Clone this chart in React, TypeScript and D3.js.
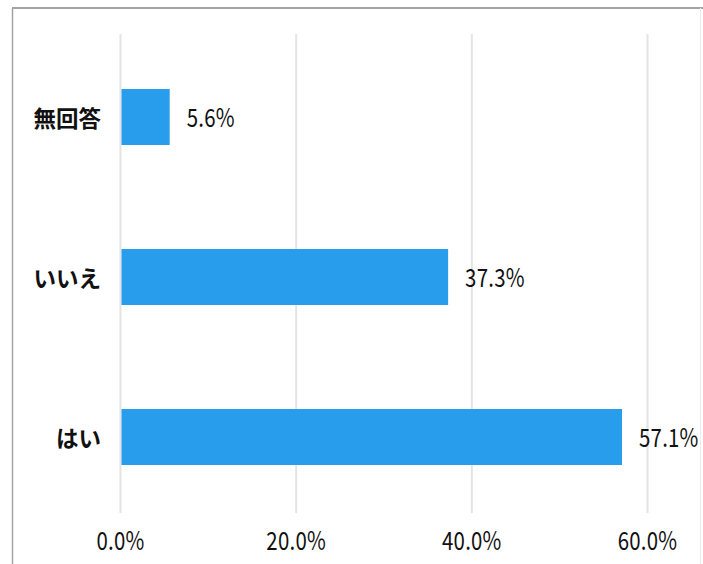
import React from "react";
import * as d3 from "d3";

const categories = ["無回答", "いいえ", "はい"];
const values = [5.6, 37.3, 57.1];
const ticks = [0, 20, 40, 60];

const W = 703;
const H = 564;
const BAR_COLOR = "#279DEB";
const FONT = "'Noto Sans CJK JP', 'Noto Sans', sans-serif";
const SX = 0.8;

function Num({ x, y, s, anchor }: { x: number; y: number; s: string; anchor?: string }) {
  return (
    <g transform={`translate(${x},${y}) scale(${SX},1)`}>
      <text
        x={0}
        y={0}
        textAnchor={anchor || "start"}
        fontFamily={FONT}
        fontSize={25.5}
        letterSpacing={0.3}
        fill="#111"
      >
        {s}
      </text>
    </g>
  );
}

export default function App() {
  const x = d3.scaleLinear().domain([0, 60]).range([120.5, 647.5]);
  const y = d3
    .scaleBand<string>()
    .domain(categories)
    .range([37, 517])
    .paddingInner(0.65)
    .paddingOuter(0.325);

  const fmt = (v: number) => v.toFixed(1) + "%";

  return (
    <svg
      width={W}
      height={H}
      style={{ position: "absolute", left: 0, top: 0, background: "#fff" }}
    >
      <rect x={0} y={0} width={W} height={H} fill="#fff" />
      {/* frame */}
      <line x1={12} x2={W} y1={8} y2={8} stroke="#a3a3a3" strokeWidth={2} />
      <line x1={12.5} x2={12.5} y1={8} y2={H} stroke="#a3a3a3" strokeWidth={1.5} />
      <line x1={700.5} x2={700.5} y1={8} y2={H} stroke="#ececec" strokeWidth={1} />

      {/* gridlines */}
      {ticks.map((t) => (
        <line
          key={t}
          x1={x(t)}
          x2={x(t)}
          y1={34}
          y2={513}
          stroke="#e4e4e4"
          strokeWidth={2}
        />
      ))}

      {/* bars */}
      {categories.map((c, i) => (
        <rect
          key={c}
          x={x(0) + 1}
          y={y(c)!}
          width={x(values[i]) - x(0) - 1}
          height={y.bandwidth()}
          fill={BAR_COLOR}
        />
      ))}

      {/* value labels */}
      {categories.map((c, i) => (
        <Num
          key={c}
          x={x(values[i]) + 17}
          y={y(c)! + y.bandwidth() / 2 + 9.5}
          s={fmt(values[i])}
        />
      ))}

      {/* category labels */}
      {categories.map((c) => (
        <text
          key={c}
          x={101}
          y={y(c)! + y.bandwidth() / 2}
          textAnchor="end"
          dominantBaseline="central"
          fontFamily={FONT}
          fontSize={22.5}
          fontWeight={700}
          fill="#111"
        >
          {c}
        </text>
      ))}

      {/* axis tick labels */}
      {ticks.map((t) => (
        <Num key={t} x={x(t)} y={550} s={t.toFixed(1) + "%"} anchor="middle" />
      ))}
    </svg>
  );
}
